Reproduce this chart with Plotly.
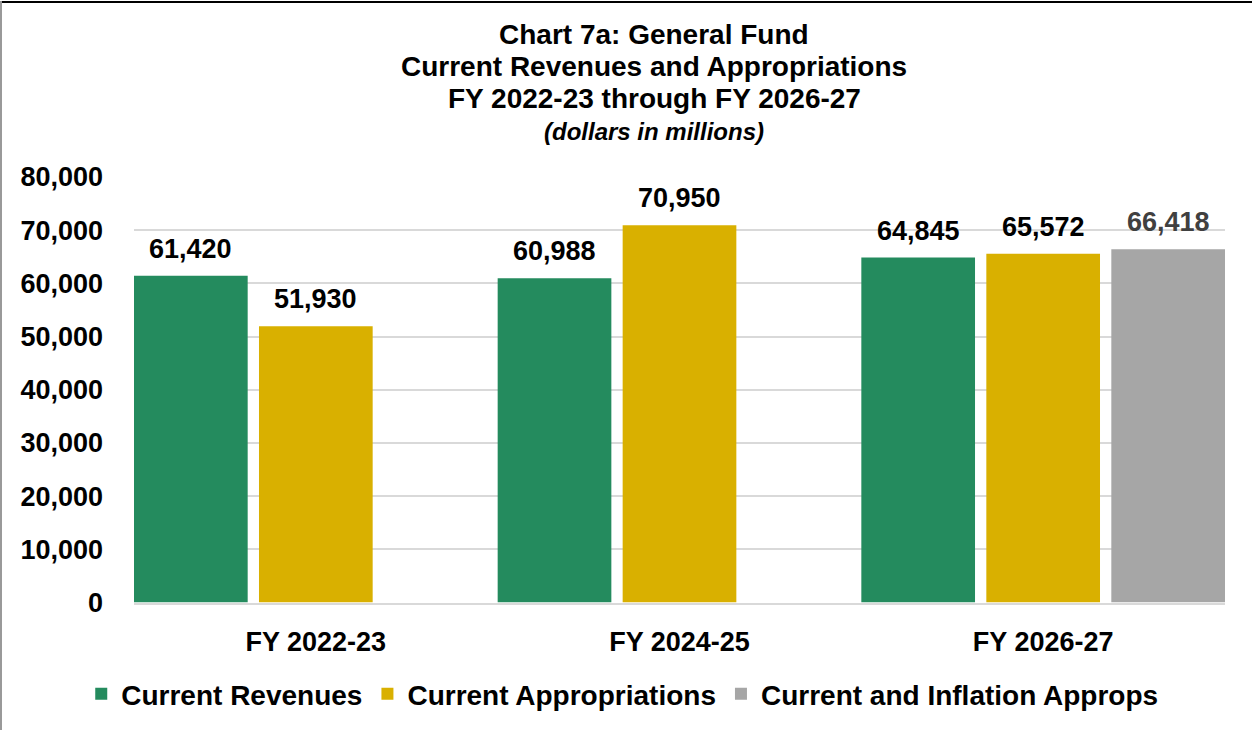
import plotly.graph_objects as go

categories = ["FY 2022-23", "FY 2024-25", "FY 2026-27"]
current_revenues = [61420, 60988, 64845]
current_appropriations = [51930, 70950, 65572]
current_and_inflation = [None, None, 66418]
y_ticks = [0, 10000, 20000, 30000, 40000, 50000, 60000, 70000, 80000]
y_tick_labels = ["0", "10,000", "20,000", "30,000", "40,000", "50,000", "60,000", "70,000", "80,000"]
title_lines = ["Chart 7a: General Fund", "Current Revenues and Appropriations",
               "FY 2022-23 through FY 2026-27"]
subtitle = "(dollars in millions)"

FONT = "Arial, 'Liberation Sans', sans-serif"
W, H = 1252, 733
ML, MR, MT, MB = 134, 27, 177, 128
PW, PH = W - ML - MR, H - MT - MB


def py_to_paper(py):
    return (H - MB - py) / PH


bar_w = 0.3126
offsets = [-0.5, -0.5 + 0.3437, -0.5 + 2 * 0.3437]
series = [
    ("Current Revenues", current_revenues, "#248B5E", "#000000"),
    ("Current Appropriations", current_appropriations, "#D9B000", "#000000"),
    ("Current and Inflation Approps", current_and_inflation, "#A6A6A6", "#404040"),
]

fig = go.Figure()
annotations = []
for (name, vals, color, lblcolor), off in zip(series, offsets):
    fig.add_trace(go.Bar(
        x=categories, y=vals, name=f"<b>{name}</b>",
        marker=dict(color=color, line=dict(width=0)),
        width=bar_w, offset=off,
        hoverinfo="skip",
    ))
    for i, v in enumerate(vals):
        if v is None:
            continue
        annotations.append(dict(
            x=i + off + bar_w / 2, y=v, xref="x", yref="y",
            text=f"<b>{v:,}</b>", showarrow=False,
            yanchor="middle", yshift=27,
            font=dict(family=FONT, size=27, color=lblcolor),
        ))

title_x = (654 - ML) / PW
for line, py in zip(title_lines, [34, 66, 98]):
    annotations.append(dict(
        x=title_x, y=py_to_paper(py), xref="paper", yref="paper",
        text=f"<b>{line}</b>", showarrow=False, xanchor="center", yanchor="middle",
        font=dict(family=FONT, size=28, color="#000000"),
    ))
annotations.append(dict(
    x=title_x, y=py_to_paper(131), xref="paper", yref="paper",
    text=f"<b><i>{subtitle}</i></b>", showarrow=False, xanchor="center", yanchor="middle",
    font=dict(family=FONT, size=24, color="#000000"),
))

fig.update_layout(
    width=W, height=H,
    margin=dict(l=ML, r=MR, t=MT, b=MB),
    paper_bgcolor="white", plot_bgcolor="white",
    barmode="overlay",
    font=dict(family=FONT, size=27, color="#000000"),
    xaxis=dict(range=[-0.5, 2.5], showgrid=False, showline=True, linecolor="#D9D9D9",
               linewidth=2, ticks="", tickfont=dict(family=FONT, size=27, color="#000000"),
               tickprefix="<b>", ticksuffix="</b>", ticklabelstandoff=14),
    yaxis=dict(range=[0, 80000], tickvals=y_ticks, ticktext=[f"<b>{t}</b>" for t in y_tick_labels],
               showgrid=True, gridcolor="#D9D9D9", gridwidth=1.5, zeroline=False,
               showline=False, ticks="", tickfont=dict(family=FONT, size=27, color="#000000"),
               ticklabelstandoff=30),
    legend=dict(orientation="h", xref="container", yref="container", x=0.497, xanchor="center",
                y=1 - 694 / H, yanchor="middle",
                font=dict(family=FONT, size=28, color="#000000"),
                itemwidth=30, traceorder="normal"),
    annotations=annotations,
    showlegend=True,
)

# thin frame lines (top black, left gray)
fig.add_shape(type="line", xref="paper", yref="paper",
              x0=-ML / PW, x1=(PW + MR) / PW, y0=1 + (MT - 1) / PH, y1=1 + (MT - 1) / PH,
              line=dict(color="#000000", width=2))
fig.add_shape(type="line", xref="paper", yref="paper",
              x0=-(ML - 1) / PW, x1=-(ML - 1) / PW, y0=-MB / PH, y1=1 + MT / PH,
              line=dict(color="#999999", width=2))

fig.write_html("out.html", config={"displayModeBar": False},
               post_script="document.body.style.margin='0';")
